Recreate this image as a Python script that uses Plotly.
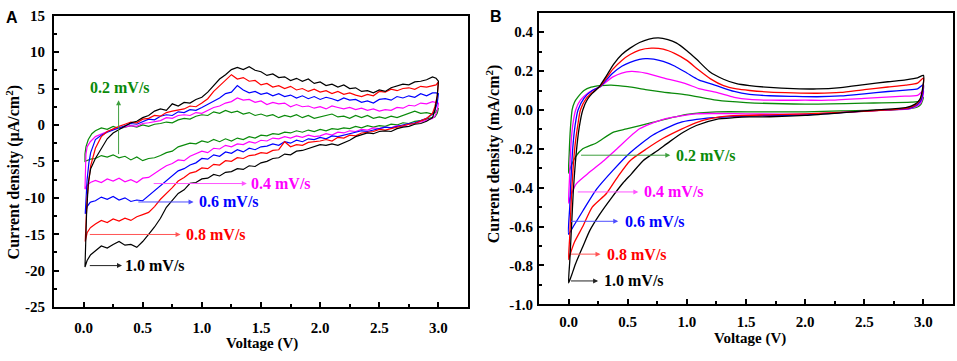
import plotly.graph_objects as go

# ---------------- DATA ----------------
RATES = ["0.2 mV/s", "0.4 mV/s", "0.6 mV/s", "0.8 mV/s", "1.0 mV/s"]
COLORS = ["#0a8a0a", "#ff00ff", "#0000ff", "#ff0000", "#000000"]

# Panel A common voltage grid (V)
A_V = [0.10, 0.15, 0.20, 0.25, 0.30, 0.35, 0.40, 0.45, 0.50, 0.55,
       0.60, 0.65, 0.70, 0.75, 0.80, 0.85, 0.90, 0.95, 1.00, 1.05,
       1.10, 1.15, 1.20, 1.25, 1.30, 1.35, 1.40, 1.45, 1.50, 1.55,
       1.60, 1.65, 1.70, 1.75, 1.80, 1.85, 1.90, 1.95, 2.00, 2.05,
       2.10, 2.15, 2.20, 2.25, 2.30, 2.35, 2.40, 2.45, 2.50, 2.55,
       2.60, 2.65, 2.70, 2.75, 2.80, 2.85, 2.90, 2.95]

# upper (anodic) branches, uA/cm2
A_UP_02 = [-0.8, -0.4, -0.6, -0.2, -0.5, -0.3, -0.1, -0.3, 0.0, -0.2,
           0.1, 0.2, 0.4, 0.3, 0.7, 0.9, 0.8, 1.2, 1.4, 1.3,
           1.8, 1.6, 2.0, 1.7, 1.9, 1.5, 1.7, 1.3, 1.5, 1.2,
           1.4, 1.0, 1.3, 1.1, 1.4, 1.0, 1.3, 0.9, 1.1, 1.3,
           1.5, 1.1, 1.2, 0.9, 1.3, 1.0, 1.3, 0.9, 1.1, 0.9,
           1.2, 1.0, 1.3, 1.5, 1.9, 1.6, 1.7, 1.5]
A_UP_04 = [-1.6, -1.2, -0.9, -0.6, -0.4, -0.3, -0.1, -0.2, 0.2, 0.3,
           0.5, 0.6, 1.0, 0.9, 1.3, 1.4, 1.3, 1.7, 1.6, 2.0,
           2.4, 2.6, 3.0, 3.2, 3.7, 3.4, 3.5, 3.1, 3.3, 2.8,
           3.1, 2.9, 3.0, 2.5, 2.8, 2.5, 2.6, 2.3, 2.5, 2.2,
           2.6, 2.4, 2.2, 2.4, 2.1, 2.3, 2.0, 2.2, 1.9, 2.1,
           2.0, 2.4, 2.3, 2.7, 2.6, 3.0, 2.9, 3.2]
A_UP_06 = [-2.0, -1.4, -1.0, -0.7, -0.3, -0.1, 0.2, 0.1, 0.5, 0.8,
           0.7, 1.2, 1.4, 1.3, 1.8, 1.7, 2.1, 2.0, 2.4, 2.8,
           3.3, 3.7, 4.3, 4.5, 5.4, 4.8, 4.4, 4.6, 4.2, 4.4,
           4.0, 4.3, 3.9, 4.1, 3.7, 4.0, 3.6, 3.9, 3.5, 3.8,
           3.6, 3.3, 3.7, 3.4, 3.5, 3.1, 3.3, 3.0, 3.5, 3.6,
           3.4, 3.9, 3.7, 4.0, 3.8, 4.3, 4.0, 4.4]
A_UP_08 = [-3.2, -1.6, -0.9, -0.5, -0.2, 0.1, 0.4, 0.3, 0.8, 0.9,
           1.3, 1.2, 1.7, 1.9, 2.1, 2.2, 2.6, 2.5, 3.0, 3.6,
           4.6, 5.4, 6.2, 6.9, 6.3, 6.5, 6.0, 6.1, 5.5, 5.7,
           5.2, 5.4, 5.0, 5.3, 4.8, 5.0, 4.6, 4.9, 4.5, 4.7,
           4.3, 4.6, 4.2, 4.4, 4.1, 3.9, 4.2, 4.0, 4.6, 4.5,
           4.9, 4.7, 5.0, 5.1, 4.9, 5.3, 5.2, 5.4]
A_UP_10 = [-4.6, -3.2, -1.9, -1.1, -0.6, -0.2, 0.3, 0.5, 1.0, 1.3,
           1.9, 2.2, 2.0, 2.9, 2.6, 3.1, 3.0, 3.5, 3.8, 4.5,
           5.4, 6.3, 6.9, 7.6, 7.9, 7.6, 8.0, 7.5, 7.3, 6.8,
           7.0, 6.5, 6.6, 6.1, 6.4, 6.0, 6.3, 5.7, 5.9, 5.4,
           5.6, 5.2, 5.5, 5.0, 5.1, 4.6, 4.7, 4.4, 4.8, 4.6,
           5.1, 5.3, 5.6, 5.5, 5.9, 6.0, 6.2, 6.6]

# lower (cathodic) branches on the same grid
A_LO_02 = [-4.6, -4.2, -4.4, -4.1, -4.5, -4.3, -4.8, -4.4, -4.9, -4.6,
           -4.5, -4.2, -3.8, -3.6, -3.0, -2.8, -2.5, -2.6, -2.2, -2.4,
           -2.0, -2.3, -1.9, -2.2, -1.8, -2.0, -1.6, -1.8, -1.4, -1.5,
           -1.2, -1.3, -1.0, -1.1, -0.8, -1.0, -0.7, -0.9, -0.6, -0.8,
           -0.5, -0.6, -0.4, -0.5, -0.2, -0.4, -0.1, -0.3, -0.1, -0.2,
           0.1, 0.0, 0.3, 0.2, 0.5, 0.6, 0.8, 1.0]
A_LO_04 = [-7.6, -7.9, -7.4, -7.7, -7.3, -7.8, -7.5, -7.9, -7.3, -7.2,
           -6.7, -6.1, -5.6, -5.3, -4.8, -4.9, -4.3, -4.0, -3.6, -3.8,
           -3.2, -3.3, -2.8, -3.0, -2.6, -2.7, -2.3, -2.5, -2.1, -2.2,
           -1.8, -1.9, -1.6, -1.8, -1.5, -1.7, -1.4, -1.6, -1.5, -1.2,
           -1.4, -1.0, -1.1, -0.8, -0.9, -0.6, -0.7, -0.4, -0.5, -0.3,
           -0.4, -0.1, -0.2, 0.1, 0.2, 0.4, 0.6, 0.9]
A_LO_06 = [-10.4, -9.9, -10.2, -9.8, -10.3, -10.0, -10.5, -10.3, -10.4, -9.7,
           -9.0, -8.4, -7.6, -7.0, -6.3, -6.0, -5.5, -5.2, -4.6, -4.7,
           -4.1, -4.3, -3.7, -3.9, -3.4, -3.7, -3.2, -3.4, -3.0, -2.9,
           -2.6, -2.8, -2.3, -2.5, -2.1, -2.3, -1.9, -2.0, -1.7, -1.9,
           -1.5, -1.6, -1.3, -1.2, -1.0, -0.8, -0.9, -0.6, -0.5, -0.3,
           -0.4, -0.1, 0.0, 0.2, 0.3, 0.6, 0.9, 1.5]
A_LO_08 = [-13.6, -13.1, -13.4, -12.9, -13.2, -12.8, -13.1, -12.6, -12.3, -12.0,
           -11.2, -10.2, -9.4, -8.6, -7.7, -7.2, -6.6, -6.4, -5.9, -6.0,
           -5.4, -5.5, -4.9, -5.0, -4.5, -4.6, -4.2, -4.1, -3.8, -3.9,
           -3.5, -3.4, -2.3, -3.0, -2.7, -2.8, -2.4, -2.3, -2.2, -2.0,
           -2.2, -1.7, -1.8, -1.4, -1.5, -1.1, -1.0, -0.9, -0.6, -0.7,
           -0.4, -0.3, -0.1, 0.1, 0.2, 0.5, 0.9, 1.6]
A_LO_10 = [-17.2, -16.6, -16.9, -16.4, -16.0, -16.5, -16.4, -16.8, -16.0, -15.0,
           -14.0, -12.8, -11.3, -10.3, -9.4, -8.9, -8.0, -7.9, -7.4, -7.3,
           -6.8, -7.0, -6.5, -6.4, -6.0, -6.1, -5.6, -5.7, -5.2, -5.0,
           -4.6, -4.5, -4.0, -4.1, -3.6, -3.5, -3.2, -3.0, -2.7, -2.8,
           -2.6, -2.8, -2.5, -2.1, -1.6, -1.3, -1.1, -1.2, -0.9, -0.8,
           -0.9, -0.5, -0.3, -0.2, 0.1, 0.2, 0.5, 1.0]

# turning segments near 0 V (lower branch -> minimum -> upper branch)
A_LEFT_V = {
    "02": [0.057, 0.03, 0.012, 0.012, 0.02, 0.04, 0.07],
    "04": [0.057, 0.03, 0.012, 0.015, 0.02, 0.03, 0.057],
    "06": [0.057, 0.03, 0.014, 0.02, 0.03, 0.045, 0.06],
    "08": [0.057, 0.03, 0.014, 0.02, 0.03, 0.045, 0.06],
    "10": [0.06, 0.03, 0.012, 0.018, 0.025, 0.04, 0.06],
}
A_LEFT_I = {
    "02": [-4.7, -4.9, -5.0, -4.0, -3.0, -2.0, -1.2],
    "04": [-7.9, -8.3, -8.8, -6.0, -4.0, -3.0, -2.3],
    "06": [-10.6, -11.2, -12.2, -10.0, -7.5, -5.2, -3.8],
    "08": [-14.1, -14.8, -16.0, -13.0, -10.0, -7.5, -5.6],
    "10": [-17.8, -18.6, -19.5, -16.0, -12.3, -8.0, -6.0],
}
# turning segments near 3 V (upper end -> steep drop -> lower branch)
A_RIGHT_V = {
    "02": [2.98, 3.0, 2.99, 2.97],
    "04": [2.98, 3.0, 2.99, 2.97],
    "06": [2.98, 3.0, 2.99, 2.97],
    "08": [2.98, 3.0, 2.99, 2.97],
    "10": [2.98, 3.0, 2.99, 2.97],
}
A_RIGHT_I = {
    "02": [1.8, 2.3, 1.6, 1.1],
    "04": [3.1, 3.0, 2.0, 1.2],
    "06": [4.4, 4.3, 3.0, 2.0],
    "08": [5.5, 5.9, 4.0, 2.5],
    "10": [6.4, 6.0, 4.0, 2.0],
}

# Panel B (mA/cm2): closed loops, anodic sweep then cathodic sweep
B_V_02 = [0.0, 0.005, 0.015, 0.03, 0.05, 0.08, 0.13, 0.19, 0.27, 0.36, 0.5, 0.65, 0.8, 1.0,
          1.25, 1.5, 2.0, 2.5, 2.9, 2.97, 3.0,
          2.98, 2.95, 2.9, 2.7, 2.3, 2.0, 1.6, 1.25, 1.0, 0.71, 0.49, 0.375, 0.234, 0.12,
          0.06, 0.02, 0.0]
B_I_02 = [-0.325, -0.23, -0.1, 0.0, 0.04, 0.067, 0.1, 0.117, 0.125, 0.128, 0.12, 0.105, 0.092,
          0.078, 0.05, 0.038, 0.03, 0.035, 0.04, 0.045, 0.065,
          0.03, 0.015, 0.008, 0.0, -0.005, -0.01, -0.01, -0.01, -0.023, -0.064, -0.098, -0.115,
          -0.17, -0.2, -0.24, -0.29, -0.325]
B_V_04 = [0.0, 0.008, 0.018, 0.035, 0.06, 0.1, 0.17, 0.27, 0.375, 0.45, 0.53, 0.65, 0.8, 1.0,
          1.1, 1.25, 1.4, 1.53, 1.7, 2.0, 2.2, 2.5, 2.8, 2.95, 3.0,
          2.99, 2.97, 2.93, 2.88, 2.7, 2.4, 2.0, 1.5, 1.08, 0.8, 0.6, 0.4, 0.3, 0.178, 0.065,
          0.02, 0.0]
B_I_04 = [-0.48, -0.35, -0.2, -0.08, 0.0, 0.05, 0.09, 0.122, 0.17, 0.19, 0.198, 0.19, 0.165,
          0.133, 0.11, 0.09, 0.065, 0.054, 0.05, 0.05, 0.05, 0.06, 0.07, 0.075, 0.1,
          0.055, 0.03, 0.015, 0.006, 0.0, -0.01, -0.022, -0.02, -0.02, -0.048, -0.097, -0.205,
          -0.26, -0.32, -0.38, -0.44, -0.48]
B_V_06 = [0.0, 0.01, 0.02, 0.035, 0.055, 0.08, 0.13, 0.2, 0.27, 0.32, 0.375, 0.45, 0.52, 0.6,
          0.65, 0.72, 0.8, 0.9, 1.0, 1.1, 1.25, 1.4, 1.53, 1.7, 1.9, 2.1, 2.3, 2.5, 2.7, 2.85,
          2.95, 3.0,
          2.99, 2.97, 2.93, 2.88, 2.7, 2.4, 2.0, 1.6, 1.22, 0.94, 0.71, 0.52, 0.375, 0.234,
          0.12, 0.04, 0.0]
B_I_06 = [-0.64, -0.5, -0.36, -0.2, -0.08, 0.0, 0.06, 0.1, 0.12, 0.155, 0.19, 0.225, 0.245,
          0.26, 0.264, 0.262, 0.25, 0.225, 0.19, 0.155, 0.125, 0.095, 0.08, 0.073, 0.07, 0.068,
          0.072, 0.083, 0.095, 0.102, 0.108, 0.13,
          0.07, 0.04, 0.02, 0.008, 0.0, -0.01, -0.025, -0.03, -0.04, -0.065, -0.13, -0.22,
          -0.311, -0.41, -0.52, -0.6, -0.64]
B_V_08 = [0.0, 0.01, 0.02, 0.035, 0.055, 0.08, 0.1, 0.15, 0.2, 0.265, 0.32, 0.375, 0.45, 0.52,
          0.6, 0.7, 0.8, 0.9, 1.0, 1.1, 1.2, 1.31, 1.42, 1.53, 1.7, 1.9, 2.1, 2.3, 2.5, 2.7,
          2.85, 2.95, 3.0,
          2.99, 2.97, 2.93, 2.85, 2.7, 2.4, 2.0, 1.7, 1.36, 1.2, 1.08, 0.95, 0.8, 0.66, 0.52,
          0.42, 0.32, 0.2, 0.12, 0.05, 0.015, 0.0]
B_I_08 = [-0.77, -0.65, -0.5, -0.33, -0.18, -0.07, 0.0, 0.06, 0.09, 0.12, 0.165, 0.21, 0.255,
          0.285, 0.308, 0.318, 0.313, 0.29, 0.255, 0.205, 0.16, 0.125, 0.108, 0.1, 0.092,
          0.088, 0.086, 0.09, 0.105, 0.118, 0.128, 0.138, 0.165,
          0.09, 0.05, 0.025, 0.008, 0.0, -0.01, -0.02, -0.025, -0.031, -0.045, -0.065, -0.1,
          -0.146, -0.2, -0.261, -0.34, -0.43, -0.5, -0.6, -0.68, -0.74, -0.77]
B_V_10 = [0.0, 0.01, 0.025, 0.04, 0.065, 0.09, 0.12, 0.16, 0.2, 0.26, 0.32, 0.38, 0.45, 0.52,
          0.6, 0.68, 0.76, 0.84, 0.91, 1.0, 1.08, 1.19, 1.31, 1.42, 1.53, 1.7, 1.9, 2.1, 2.3,
          2.5, 2.7, 2.85, 2.95, 3.0,
          2.99, 2.97, 2.93, 2.85, 2.6, 2.3, 2.0, 1.7, 1.53, 1.4, 1.25, 1.08, 0.97, 0.855, 0.75,
          0.63, 0.53, 0.46, 0.36, 0.26, 0.18, 0.12, 0.06, 0.02, 0.0]
B_I_10 = [-0.89, -0.78, -0.6, -0.42, -0.22, -0.09, 0.0, 0.055, 0.085, 0.12, 0.175, 0.235,
          0.285, 0.318, 0.347, 0.365, 0.371, 0.362, 0.345, 0.305, 0.262, 0.198, 0.158, 0.135,
          0.125, 0.116, 0.11, 0.108, 0.115, 0.13, 0.145, 0.155, 0.165, 0.178,
          0.1, 0.055, 0.03, 0.012, 0.0, -0.015, -0.028, -0.035, -0.036, -0.04, -0.048, -0.08,
          -0.115, -0.163, -0.21, -0.261, -0.33, -0.376, -0.455, -0.54, -0.62, -0.704, -0.79,
          -0.86, -0.89]

X_TICKS = [0.0, 0.5, 1.0, 1.5, 2.0, 2.5, 3.0]
X_TICKTEXT = ["0.0", "0.5", "1.0", "1.5", "2.0", "2.5", "3.0"]
A_Y_TICKS = [15, 10, 5, 0, -5, -10, -15, -20, -25]
A_Y_TICKTEXT = ["15", "10", "5", "0", "-5", "-10", "-15", "-20", "-25"]
B_Y_TICKS = [0.4, 0.2, 0.0, -0.2, -0.4, -0.6, -0.8, -1.0]
B_Y_TICKTEXT = ["0.4", "0.2", "0.0", "-0.2", "-0.4", "-0.6", "-0.8", "-1.0"]

# ---------------- FIGURE ----------------
SERIF = "'Liberation Serif', 'Times New Roman', Times, serif"
SANS = "'Liberation Sans', Arial, sans-serif"
W, H = 957, 361
fig = go.Figure()

A_UP = {"02": A_UP_02, "04": A_UP_04, "06": A_UP_06, "08": A_UP_08, "10": A_UP_10}
A_LO = {"02": A_LO_02, "04": A_LO_04, "06": A_LO_06, "08": A_LO_08, "10": A_LO_10}
KEYS = ["02", "04", "06", "08", "10"]

for k, col, name in zip(KEYS, COLORS, RATES):
    lv, li = A_LEFT_V[k], A_LEFT_I[k]
    rv, ri = A_RIGHT_V[k], A_RIGHT_I[k]
    xs = lv + A_V + rv + A_V[::-1] + [lv[0]]
    ys = li + A_UP[k] + ri + A_LO[k][::-1] + [li[0]]
    fig.add_trace(go.Scatter(x=xs, y=ys, mode="lines", name=name,
                             line=dict(color=col, width=1.2),
                             xaxis="x", yaxis="y", showlegend=False))

B_DATA = [(B_V_02, B_I_02), (B_V_04, B_I_04), (B_V_06, B_I_06), (B_V_08, B_I_08), (B_V_10, B_I_10)]
for (bv, bi), col, name in zip(B_DATA, COLORS, RATES):
    fig.add_trace(go.Scatter(x=bv, y=bi, mode="lines", name=name,
                             line=dict(color=col, width=1.3, shape="spline", smoothing=0.6),
                             xaxis="x2", yaxis="y2", showlegend=False))

def px_x(p):
    return p / W

def px_y(p):
    return 1 - p / H

axis_common = dict(showline=True, linewidth=2, linecolor="black", mirror=True,
                   ticks="inside", ticklen=5, tickwidth=1.5, tickcolor="black",
                   showgrid=False, zeroline=False,
                   tickfont=dict(family=SERIF, size=15, color="black", weight="bold"))

fig.update_layout(
    width=W, height=H, margin=dict(l=0, r=0, t=0, b=0),
    paper_bgcolor="white", plot_bgcolor="white",
    font=dict(family=SERIF),
    xaxis=dict(domain=[px_x(54), px_x(468)], range=[-0.25, 3.25], anchor="y",
               tickmode="array", tickvals=X_TICKS, ticktext=X_TICKTEXT, ticklabelstandoff=6,
               minor=dict(tickmode="array", tickvals=[0.25, 0.75, 1.25, 1.75, 2.25, 2.75],
                          ticks="inside", ticklen=3, tickcolor="black"),
               **axis_common),
    yaxis=dict(domain=[px_y(313), px_y(8)], range=[-25, 15], anchor="x",
               tickmode="array", tickvals=A_Y_TICKS, ticktext=A_Y_TICKTEXT, ticklabelstandoff=4,
               minor=dict(tickmode="array", tickvals=[-22.5, -17.5, -12.5, -7.5, -2.5, 2.5, 7.5, 12.5],
                          ticks="inside", ticklen=3, tickcolor="black"),
               **axis_common),
    xaxis2=dict(domain=[px_x(539), px_x(953)], range=[-0.25, 3.25], anchor="y2",
                tickmode="array", tickvals=X_TICKS, ticktext=X_TICKTEXT, ticklabelstandoff=3,
                minor=dict(tickmode="array", tickvals=[0.25, 0.75, 1.25, 1.75, 2.25, 2.75],
                           ticks="inside", ticklen=3, tickcolor="black"),
                **axis_common),
    yaxis2=dict(domain=[px_y(310), px_y(5)], range=[-1.0, 0.5], anchor="x2",
                tickmode="array", tickvals=B_Y_TICKS, ticktext=B_Y_TICKTEXT, ticklabelstandoff=1,
                minor=dict(tickmode="array", tickvals=[-0.9, -0.7, -0.5, -0.3, -0.1, 0.1, 0.3],
                           ticks="inside", ticklen=3, tickcolor="black"),
                **axis_common),
)

ann = []
title_font = dict(family=SERIF, size=16, color="black", weight="bold")
xtitle_font = dict(family=SERIF, size=15, color="black", weight="bold")
# axis titles
ann.append(dict(text="Voltage (V)", x=px_x(262), y=0, xref="paper", yref="paper",
                showarrow=False, font=xtitle_font, xanchor="center", yanchor="bottom",
                borderpad=0))
ann.append(dict(text="Voltage (V)", x=px_x(750), y=px_y(346), xref="paper", yref="paper",
                showarrow=False, font=xtitle_font, xanchor="center", yanchor="middle",
                borderpad=0))
ann.append(dict(text="Current density (\u00b5A/cm<sup>2</sup>)", x=px_x(13), y=px_y(172),
                xref="paper", yref="paper", textangle=-90, showarrow=False, font=title_font,
                xanchor="center", yanchor="middle"))
ann.append(dict(text="Current density (mA/cm<sup>2</sup>)", x=px_x(493), y=px_y(153),
                xref="paper", yref="paper", textangle=-90, showarrow=False, font=title_font,
                xanchor="center", yanchor="middle"))
# panel letters
ann.append(dict(text="A", x=px_x(12), y=px_y(10), xref="paper", yref="paper", showarrow=False,
                font=dict(family=SANS, size=16, color="black", weight="bold"),
                xanchor="center", yanchor="middle"))
ann.append(dict(text="B", x=px_x(496), y=px_y(9), xref="paper", yref="paper", showarrow=False,
                font=dict(family=SANS, size=16, color="black", weight="bold"),
                xanchor="center", yanchor="middle"))

ARROW_COLORS = ["#3f9f3f", "#ff55ff", "#4d4dff", "#ff5555", "#222222"]
label_font = lambda c: dict(family=SERIF, size=16, color=c, weight="bold")

# Panel A arrows: (tail_v, tail_i, head_v, head_i)
A_ARROWS = [(0.296, -4.2, 0.296, 3.4), (0.58, -8.04, 1.38, -8.04), (0.45, -10.57, 0.93, -10.57),
            (0.04, -15.03, 0.82, -15.03), (0.04, -19.3, 0.325, -19.3)]
for (tv, ti, hv, hi), c in zip(A_ARROWS, ARROW_COLORS):
    ann.append(dict(x=hv, y=hi, ax=tv, ay=ti, xref="x", yref="y", axref="x", ayref="y",
                    text="", showarrow=True, arrowhead=2, arrowsize=1, arrowwidth=1,
                    arrowcolor=c, standoff=0))
A_LABEL_POS = [(0.31, 5.2, "center"), (1.40, -8.04, "left"), (0.96, -10.57, "left"),
               (0.85, -15.03, "left"), (0.33, -19.3, "left")]
for (v, i, anc), c, t in zip(A_LABEL_POS, COLORS, RATES):
    ann.append(dict(x=v, y=i, xref="x", yref="y", text=t, showarrow=False,
                    xanchor=anc, yanchor="middle", font=label_font(c)))

# Panel B arrows
B_ARROWS = [(0.093, -0.233, 0.86, -0.233), (0.065, -0.422, 0.59, -0.422),
            (0.008, -0.573, 0.42, -0.573), (0.008, -0.742, 0.27, -0.742),
            (0.008, -0.88, 0.25, -0.88)]
for (tv, ti, hv, hi), c in zip(B_ARROWS, ARROW_COLORS):
    ann.append(dict(x=hv, y=hi, ax=tv, ay=ti, xref="x2", yref="y2", axref="x2", ayref="y2",
                    text="", showarrow=True, arrowhead=2, arrowsize=1, arrowwidth=1,
                    arrowcolor=c, standoff=0))
B_LABEL_POS = [(0.89, -0.233), (0.62, -0.422), (0.46, -0.573), (0.31, -0.742), (0.28, -0.88)]
for (v, i), c, t in zip(B_LABEL_POS, COLORS, RATES):
    ann.append(dict(x=v, y=i, xref="x2", yref="y2", text=t, showarrow=False,
                    xanchor="left", yanchor="middle", font=label_font(c)))

fig.update_layout(annotations=ann)
fig.write_html("out.html", config={"displayModeBar": False},
               post_script="document.body.style.margin='0px';document.body.style.padding='0px';")
